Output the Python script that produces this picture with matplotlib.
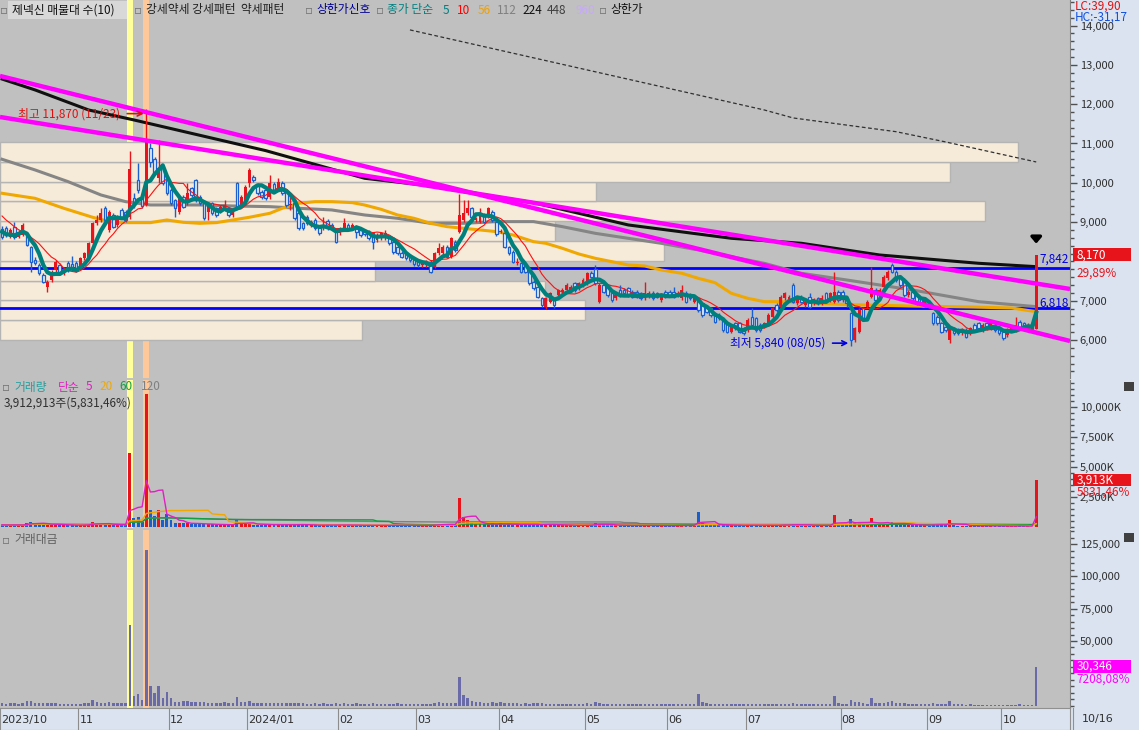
# 제넥신 daily chart: candles + MAs + volume profile, volume and trading value panels

import numpy as np
import pandas as pd
import matplotlib
matplotlib.use('Agg')
import matplotlib.pyplot as plt
import matplotlib.transforms as mtrans
from matplotlib.patches import Rectangle
from matplotlib.ticker import FixedLocator, MultipleLocator, FuncFormatter

plt.rcParams['font.family'] = ['Noto Sans CJK KR', 'DejaVu Sans']
plt.rcParams['axes.unicode_minus'] = False

# ---------------- data ----------------
month_start = [0, 19, 41, 60, 82, 101, 121, 142, 162, 181, 204, 225, 243]
month_label = ['2023/10', '11', '12', '2024/01', '02', '03', '04', '05', '06', '07', '08', '09', '10']

# closes before the first visible day (only used for MA5 / MA10)
pre_closes = [9700, 9600, 9550, 9500, 9420, 9000, 8850, 8700, 8600]

opens = [8816, 8840, 8630, 8880, 8630, 8670, 8710, 8375, 8030, 7910, 7655, 7357, 7527, 7782, 7909, 7697, 7950, 7934, 7968, 7866, 8078, 8120, 8460, 8970, 9054, 9350, 8800, 9180, 8926, 9309, 9266, 9122,
         9605, 10072, 9650, 9440, 10878, 10598, 10115, 10411, 10072, 9818, 9563, 9266, 9648, 9478, 9860, 10072, 9648, 9520, 9266, 9478, 9350, 9266, 9309, 9350, 9180, 9987, 9393, 9478, 9987, 10157, 9945, 9775, 9818,
         9648, 9970, 9818, 10004, 9775, 9436, 9478, 9224, 8969, 9140, 8926, 9054, 8842, 8842, 9037, 8926, 8800, 8715, 8842, 8926, 8842, 8884, 8800, 8783, 8757, 8715, 8545, 8587, 8587, 8587, 8503, 8375, 8222, 8188, 8163, 8053, 7994, 7909, 7909, 7994, 7866, 8206, 8206, 8375, 8121, 8503, 8757, 9054, 9224, 9350, 9054, 9012, 9181, 9140, 9266, 9012, 8757, 8715, 8358, 8248, 7970, 7951, 7909, 7740, 7485,
         7357, 7060, 6850, 6976, 7060, 7145, 7230, 7272, 7272, 7443, 7315, 7400, 7443, 7714, 7798, 6976, 7400, 7357, 7188, 7060, 7272, 7272, 7315, 7230, 7230, 7188, 7060, 7103, 7205, 7188, 7018, 7230, 7230, 7230, 7145, 7060, 7205, 7145, 6976, 7018, 6933, 6849, 6806, 6679, 6636, 6552, 6424, 6212, 6424, 6424, 6297, 6255, 6594, 6552, 6382, 6340, 6424, 6594, 6891, 6849, 7060, 7018, 7400, 6933,
         7103, 6891, 7103, 6933, 7060, 6933, 7188, 7018, 6976, 7230, 7230, 7060, 6679, 6000, 6212, 6806, 6849, 7103, 7272, 7230, 7357, 7570, 7909, 7740, 7612, 7527, 7145, 7230, 7145, 7060, 6891, 6976, 6679, 6594, 6424, 6340, 6000, 6297, 6255, 6170, 6255, 6170, 6382, 6424, 6255, 6424, 6297, 6382, 6297, 6212, 6127, 6255, 6255, 6467, 6424, 6255, 6382, 6290]
highs = [8900, 8900, 8850, 9010, 8800, 8980, 8760, 8400, 8100, 7960, 7700, 7520, 7780, 8030, 7960, 7850, 8000, 8140, 8000, 8120, 8250, 8500, 9010, 9180, 9360, 9400, 9300, 9220, 9180, 9350, 9300, 10820,
         9730, 10500, 9700, 11870, 11000, 10650, 11090, 10450, 10100, 9860, 9600, 9700, 9690, 9988, 9900, 10100, 9690, 9560, 9520, 9520, 9390, 9430, 9563, 9390, 9350, 10030, 9690, 9940, 10380, 10200, 9990, 9820, 9860,
         10200, 10010, 10115, 10050, 9820, 9650, 9520, 9260, 9010, 9180, 9050, 9100, 8880, 9120, 9080, 8970, 8840, 8880, 9100, 8970, 8970, 8930, 8840, 8820, 8800, 8750, 8710, 8750, 8800, 8630, 8545, 8420, 8260, 8230, 8200, 8090, 8030, 7990, 8030, 8030, 8250, 8460, 8420, 8420, 8630, 8545, 9716, 9563, 9563, 9390, 9140, 9350, 9224, 9390, 9310, 9050, 8820, 8760, 8400, 8290, 8080, 7990, 7950, 7780, 7530,
         7400, 7100, 7100, 7230, 7100, 7310, 7315, 7440, 7400, 7485, 7485, 7570, 7740, 7760, 7900, 7440, 7440, 7400, 7230, 7190, 7400, 7315, 7357, 7272, 7272, 7230, 7485, 7250, 7250, 7230, 7190, 7272, 7272, 7357, 7250, 7400, 7250, 7190, 7103, 7060, 6976, 6890, 6850, 6720, 6680, 6594, 6467, 6382, 6467, 6467, 6340, 6552, 6806, 6594, 6424, 6467, 6679, 6849, 6933, 7145, 7230, 7145, 7440, 7103,
         7145, 7018, 7188, 7080, 7103, 7145, 7230, 7230, 7740, 7272, 7272, 7103, 6720, 6340, 6806, 6849, 7018, 7866, 7315, 7315, 7655, 7782, 7951, 7782, 7655, 7570, 7272, 7272, 7188, 7103, 7103, 7018, 6720, 6636, 6467, 6382, 6340, 6340, 6297, 6310, 6297, 6340, 6424, 6467, 6424, 6467, 6467, 6424, 6340, 6255, 6297, 6382, 6594, 6509, 6467, 6424, 6424, 8170]
lows = [8560, 8620, 8600, 8560, 8600, 8650, 8380, 7740, 7900, 7650, 7440, 7230, 7480, 7740, 7650, 7650, 7740, 7760, 7740, 7820, 8040, 8100, 8420, 8930, 9010, 9000, 8760, 8840, 8880, 9100, 9010, 9080,
        9350, 9750, 9350, 9400, 10400, 10200, 9990, 9950, 9700, 9440, 9140, 9200, 9350, 9440, 9650, 9520, 9440, 9050, 9050, 9180, 9140, 9220, 9270, 9140, 9140, 9350, 9350, 9440, 9900, 10030, 9690, 9600, 9560,
        9600, 9730, 9780, 9700, 9390, 9310, 9050, 8800, 8800, 8930, 8880, 8800, 8670, 8800, 8800, 8800, 8460, 8670, 8800, 8800, 8800, 8590, 8630, 8650, 8550, 8310, 8500, 8550, 8550, 8420, 8200, 8160, 8080, 8040, 7990, 7890, 7870, 7860, 7870, 7700, 7820, 8160, 8160, 8080, 8080, 8250, 8720, 9010, 9180, 9100, 9010, 8970, 8970, 9100, 9010, 8650, 8710, 8330, 8160, 7950, 7900, 7700, 7700, 7400, 7270,
        7060, 6850, 6800, 6930, 6810, 7100, 7190, 7230, 7230, 7230, 7270, 7357, 7400, 7570, 7400, 6930, 7190, 7100, 6976, 7018, 7100, 7145, 7100, 7060, 7060, 7018, 7018, 7060, 7018, 7060, 6976, 7060, 7100, 7060, 7100, 7018, 6930, 7018, 6930, 6720, 6594, 6680, 6594, 6424, 6509, 6212, 6170, 6170, 6255, 6170, 6127, 6212, 6340, 6212, 6212, 6297, 6382, 6552, 6720, 6806, 7018, 6976, 6933, 6890,
        6933, 6850, 6806, 6891, 6891, 6891, 6933, 6976, 6933, 6976, 6976, 6850, 5840, 5950, 6170, 6509, 6806, 7060, 6976, 7188, 7315, 7527, 7697, 7485, 7357, 7100, 7100, 7018, 6891, 6891, 6849, 6806, 6382, 6382, 6170, 6212, 5920, 6127, 6127, 6127, 6043, 6127, 6212, 6255, 6212, 6255, 6255, 6212, 6127, 6000, 6085, 6212, 6212, 6297, 6255, 6212, 6212, 6290]
closes = [8630, 8670, 8800, 8630, 8760, 8930, 8420, 7990, 7950, 7700, 7485, 7485, 7740, 7994, 7697, 7800, 7782, 7800, 7782, 8078, 8206, 8460, 8970, 9054, 9224, 9054, 9266, 8884, 9140, 9140, 9054, 10343,
          9436, 9818, 9400, 11090, 10538, 10242, 10369, 9987, 9733, 9478, 9350, 9665, 9393, 9733, 9690, 9563, 9478, 9096, 9478, 9224, 9180, 9393, 9436, 9180, 9309, 9393, 9648, 9902, 10327, 10072, 9733, 9648, 9605,
          9987, 9775, 10030, 9750, 9436, 9460, 9096, 8842, 8842, 8969, 9012, 8842, 8715, 8926, 8842, 8842, 8503, 8842, 8969, 8842, 8926, 8757, 8672, 8698, 8587, 8503, 8672, 8715, 8715, 8460, 8248, 8206, 8121, 8078, 8036, 7934, 7909, 7951, 7994, 7740, 8206, 8333, 8375, 8121, 8587, 8290, 9181, 9224, 9350, 9140, 9096, 9206, 9012, 9350, 9054, 8698, 8783, 8375, 8206, 7994, 7994, 7740, 7740, 7443, 7315,
          7103, 6891, 7060, 7188, 6891, 7272, 7272, 7400, 7357, 7272, 7443, 7527, 7697, 7612, 7443, 7400, 7230, 7145, 7018, 7145, 7145, 7188, 7145, 7103, 7103, 7060, 7188, 7205, 7060, 7103, 7145, 7103, 7145, 7103, 7205, 7272, 6976, 7060, 7060, 6764, 6636, 6721, 6636, 6467, 6552, 6255, 6212, 6340, 6297, 6212, 6170, 6509, 6382, 6255, 6255, 6424, 6636, 6806, 6764, 7103, 7188, 7103, 6976, 7060,
          6976, 6976, 6849, 7035, 6933, 7060, 6976, 7188, 7230, 7018, 7035, 6933, 6000, 6297, 6764, 6552, 6976, 7315, 7018, 7272, 7612, 7740, 7740, 7527, 7400, 7145, 7230, 7060, 6933, 6933, 7060, 6849, 6424, 6424, 6212, 6255, 6297, 6187, 6170, 6272, 6085, 6297, 6255, 6297, 6382, 6297, 6424, 6255, 6170, 6043, 6255, 6340, 6382, 6340, 6297, 6382, 6290, 8170]

# volume, thousand shares
volumes = [210, 180, 190, 230, 160, 200, 380, 470, 300, 260, 280, 250, 230, 260, 200, 170, 180, 200, 170, 190, 210, 230, 470, 300, 260, 240, 280, 220, 190, 180, 210,
           6170,
           800, 900, 470, 11110, 1440, 940, 1440, 610, 1080, 610, 330, 330, 400, 330,
           280, 300, 260, 300, 250, 240, 200, 220, 260, 200, 190, 690, 280, 300, 350, 230, 220, 200, 210,
           240, 200, 210, 190, 220, 200, 240, 260, 200, 180, 170, 190, 160, 200, 180, 170, 230, 180, 210, 170, 160, 190, 170, 160, 170, 200, 160, 150, 170, 160, 190, 200, 160, 150, 140, 160, 150, 140, 150, 170, 280, 300, 220, 210, 230, 260,
           2440,
           900, 600, 400, 300, 280, 260, 250, 330, 260, 350, 200, 260, 220, 280, 200, 230, 200, 250, 240,
           260, 230, 220, 210, 200, 180, 170, 160, 150, 160, 170, 220, 180, 350, 300, 200, 180, 170, 160, 180, 150, 140, 150, 140, 130, 200, 160, 140, 130, 150, 140, 130, 120, 130, 200, 160, 140, 130,
           1270,
           400, 260, 200, 240, 180, 220, 200, 170, 180, 160, 150, 200, 210, 190, 150, 140, 180, 200, 170, 220, 180, 160, 300, 220, 180, 160, 170, 150, 160, 150, 170, 180,
           1020,
           300, 220, 200, 700, 450, 400, 250, 220,
           800,
           300, 250, 280, 350, 420, 300, 250, 280, 200, 180, 170, 160, 180, 150, 300, 220, 200, 170,
           600,
           200, 150, 140, 130, 150, 120, 110, 120, 100, 110, 100, 90, 120, 110, 100, 90, 150, 100, 90, 66,
           3913]

# long moving averages (day index, price)
ma56_i = [0, 8, 15, 22, 26, 30, 36, 40, 44, 48, 52, 56, 60, 65, 68, 72, 76, 80, 85, 88, 92, 96, 100, 104, 108, 112, 116, 120, 124, 129,
          132, 136, 140, 144, 148, 152, 156, 160, 165, 169, 173, 177, 181, 185, 189, 195, 205, 215, 221, 235, 245, 251]
ma56_v = [9733, 9605, 9351, 9122, 9012, 8986, 8986, 9054, 8994, 8969, 8986, 9054, 9122, 9224, 9351, 9478, 9520, 9520, 9495, 9435, 9325, 9181, 9096, 8969, 8884, 8842, 8800, 8757, 8672, 8502,
          8460, 8333, 8188, 8078, 7993, 7909, 7883, 7782, 7697, 7569, 7460, 7188, 7060, 6976, 6976, 6950, 6900, 6880, 6865, 6840, 6815, 6720]
ma112_i = [0, 8, 16, 24, 30, 36, 48, 56, 65, 72, 80, 88, 96, 104, 112, 120, 129, 136, 144, 152, 160, 169, 177, 185, 194, 205, 221, 237, 251]
ma112_v = [10598, 10327, 10030, 9690, 9520, 9436, 9436, 9410, 9393, 9351, 9309, 9181, 9096, 8969, 8969, 9012, 9012, 8884, 8714, 8587, 8460, 8290, 8121, 7951, 7697, 7527, 7272, 6975, 6848]
ma224_i = [0, 8, 21, 32, 64, 88, 104, 112, 129, 152, 177, 194, 213, 237, 251]
ma224_v = [12640, 12363, 11853, 11599, 10818, 10115, 9919, 9775, 9494, 8927, 8588, 8461, 8163, 7952, 7866]
ma448_i = [99, 185, 192, 217, 229, 251]
ma448_v = [13890, 11853, 11650, 11300, 11040, 10530]

# volume profile (10 price bands of 504 from 6,000), relative volume bottom -> top
profile_low = 6000
profile_step = 504
profile_vol = [338, 547, 509, 350, 621, 519, 921, 557, 888, 951]

# trend lines and horizontal levels
trend_a_i = [-0.5, 259.2]
trend_a_v = [12718, 5975]
trend_b_i = [-0.5, 259.2]
trend_b_v = [11674, 7298]
levels = [7842, 6818]

high_day, low_day = 35, 206

# ---------------- derived ----------------
o = np.array(opens, float)
h = np.array(highs, float)
l = np.array(lows, float)
c = np.array(closes, float)
h = np.maximum(h, np.maximum(o, c))
l = np.minimum(l, np.minimum(o, c))
v = np.array(volumes, float)
n = len(c)
idx = np.arange(n)
up = c >= o

allc = pd.Series(pre_closes + closes, dtype=float)
ma5 = allc.rolling(5).mean().values[len(pre_closes):]
ma10 = allc.rolling(10).mean().values[len(pre_closes):]
vs = pd.Series(v)
vma = {k: vs.rolling(k, min_periods=1).mean().values for k in (5, 20, 60, 120)}
value = v * (h + l + 2 * c) / 4 / 1000  # million won

RED = '#e8141c'
BLUE = '#1a5fd0'
BG = '#c0c0c0'
AXBG = '#dae3ef'
XL = (-0.5, 259.2)

W, H = 1139, 730
fig = plt.figure(figsize=(W / 100, H / 100), dpi=100, facecolor=BG)


def fx(p):
    return p / W


def fy(p):
    return 1 - p / H


def add_ax(x0, y0, x1, y1):
    return fig.add_axes([fx(x0), fy(y1), fx(x1) - fx(x0), fy(y0) - fy(y1)])


fig.patches.append(Rectangle((fx(1070), 0), 1 - fx(1070), 1, transform=fig.transFigure,
                             facecolor=AXBG, edgecolor='none', zorder=-5))
fig.patches.append(Rectangle((0, 0), 1, fy(708), transform=fig.transFigure,
                             facecolor=AXBG, edgecolor='none', zorder=-5))

ax = add_ax(0, 0, 1070, 378)
axv = add_ax(0, 380, 1070, 528)
axm = add_ax(0, 530, 1070, 708)
axd = add_ax(0, 708, 1070, 730)


def style(a):
    a.set_facecolor(BG)
    a.set_xlim(*XL)
    for s in ('top', 'left', 'bottom'):
        a.spines[s].set_visible(False)
    a.spines['right'].set_color('#808080')
    a.tick_params(axis='x', bottom=False, labelbottom=False)
    a.yaxis.tick_right()
    a.tick_params(axis='y', which='major', length=5, width=1, color='#505050',
                  labelsize=8, labelcolor='#303030', pad=2)
    a.tick_params(axis='y', which='minor', length=3, width=1, color='#505050')
    # highlighted days (11/17 and 11/23)
    a.axvspan(30.3, 31.7, color='#ffff9c', zorder=0.2, lw=0)
    a.axvspan(34.3, 35.7, color='#ffc89a', zorder=0.2, lw=0)


for a in (ax, axv, axm):
    style(a)

# ---------------- price panel ----------------
ax.set_ylim(5033, 14651)
blend = mtrans.blended_transform_factory(ax.transAxes, ax.transData)
for k, pv in enumerate(profile_vol):
    ax.add_patch(Rectangle((0, profile_low + k * profile_step), pv / 1000, profile_step,
                           transform=blend, facecolor='#f6ead8', edgecolor='#b4b4b4', lw=1, zorder=1))

for lv in levels:
    ax.axhline(lv, color='#0000ff', lw=2, zorder=2)

ax.plot(ma448_i, ma448_v, color='#303030', lw=0.9, ls=(0, (3, 2)), zorder=2)
ax.plot(ma112_i, ma112_v, color='#858585', lw=2.2, zorder=2.5)
ax.plot(ma56_i, ma56_v, color='#f0a800', lw=2.2, zorder=2.5)
ax.plot(ma224_i, ma224_v, color='#101010', lw=2.2, zorder=2.6)

ax.vlines(idx[up], l[up], h[up], color=RED, lw=1, zorder=3)
ax.vlines(idx[~up], l[~up], h[~up], color=BLUE, lw=1, zorder=3)
ax.bar(idx[up], np.maximum(c[up] - o[up], 20), bottom=o[up], width=0.72, color=RED, zorder=3.1)
ax.bar(idx[~up], np.maximum(o[~up] - c[~up], 20), bottom=c[~up], width=0.62,
       facecolor='#e8eefa', edgecolor=BLUE, lw=0.9, zorder=3.1)

ax.plot(idx, ma10, color='#ff1010', lw=0.8, zorder=4)
ax.plot(idx, ma5, color='#00807c', lw=3, zorder=4.1)

ax.plot(trend_a_i, trend_a_v, color='#ff00ff', lw=3.2, zorder=5, solid_capstyle='butt')
ax.plot(trend_b_i, trend_b_v, color='#ff00ff', lw=3.2, zorder=5, solid_capstyle='butt')

ax.yaxis.set_major_locator(FixedLocator([6000, 7000, 9000, 10000, 11000, 12000, 13000, 14000]))
ax.yaxis.set_minor_locator(MultipleLocator(200))
ax.yaxis.set_major_formatter(FuncFormatter(lambda y, p: f'{y:,.0f}'))

ax.annotate('최고 11,870 (11/23)', xy=(high_day - 0.6, 11760), xytext=(3.9, 11760),
            color='#e01010', fontsize=8.5, va='center', ha='left', zorder=6,
            arrowprops=dict(arrowstyle='->', color='#e01010', lw=1.2, shrinkA=3, shrinkB=0))
ax.annotate('최저 5,840 (08/05)', xy=(low_day - 0.6, 5920), xytext=(176.7, 5920),
            color='#0000e0', fontsize=8.5, va='center', ha='left', zorder=6,
            arrowprops=dict(arrowstyle='->', color='#0000e0', lw=1.2, shrinkA=3, shrinkB=0))
ax.annotate('', xy=(n - 1, 8380), xytext=(n - 1, 8700),
            arrowprops=dict(arrowstyle='-|>,head_width=0.3,head_length=0.35', color='black', lw=2.5))
ax.text(258.8, levels[0] + 40, '7,842', color='#0000e0', fontsize=8.5, ha='right', va='bottom', zorder=6)
ax.text(258.8, levels[1] + 120, '6,818', color='#0000e0', fontsize=8.5, ha='right', va='center', zorder=6)

ax.add_patch(Rectangle((1.0028, c[-1] - 165), 0.054, 330, transform=blend, facecolor=RED,
                       edgecolor='none', clip_on=False, zorder=6))
ax.text(1.006, c[-1], f'{c[-1]:,.0f}', transform=blend, color='white', fontsize=8.5, va='center', ha='left', zorder=7)
ax.text(1.006, c[-1] - 480, '29,89%', transform=blend, color=RED, fontsize=8.5, va='center', ha='left', zorder=7)

# ---------------- volume panel ----------------
axv.set_ylim(-58, 12275)
axv.bar(idx[up], v[up], width=0.72, color=RED, zorder=3)
axv.bar(idx[~up], v[~up], width=0.72, color=BLUE, zorder=3)
for k, col in ((120, '#808080'), (60, '#10a040'), (20, '#f0a800'), (5, '#e020c0')):
    axv.plot(idx, vma[k], color=col, lw=1, zorder=4)
axv.yaxis.set_major_locator(FixedLocator([2500, 5000, 7500, 10000]))
axv.yaxis.set_minor_locator(MultipleLocator(500))
axv.yaxis.set_major_formatter(FuncFormatter(lambda y, p: f'{y:,.0f}K'))
blv = mtrans.blended_transform_factory(axv.transAxes, axv.transData)
axv.add_patch(Rectangle((1.0028, v[-1] - 500), 0.054, 1000, transform=blv, facecolor=RED,
                        edgecolor='none', clip_on=False, zorder=6))
axv.text(1.006, v[-1], f'{v[-1]:,.0f}K', transform=blv, color='white', fontsize=8.5, va='center', zorder=7)
axv.text(1.006, v[-1] - 1000, '5831,46%', transform=blv, color=RED, fontsize=8.5, va='center', zorder=7)

# ---------------- trading value panel ----------------
axm.set_ylim(-1860, 135900)
axm.bar(idx, value, width=0.6, color='#6a6aa8', zorder=3)
axm.yaxis.set_major_locator(FixedLocator([50000, 75000, 100000, 125000]))
axm.yaxis.set_minor_locator(MultipleLocator(5000))
axm.yaxis.set_major_formatter(FuncFormatter(lambda y, p: f'{y:,.0f}'))
blm = mtrans.blended_transform_factory(axm.transAxes, axm.transData)
axm.add_patch(Rectangle((1.0028, 30346 - 5000), 0.054, 10000, transform=blm, facecolor='#ff00ff',
                        edgecolor='none', clip_on=False, zorder=6))
axm.text(1.006, 30346, '30,346', transform=blm, color='white', fontsize=8.5, va='center', zorder=7)
axm.text(1.006, 20600, '7208,08%', transform=blm, color='#ff00ff', fontsize=8.5, va='center', zorder=7)

# ---------------- date strip ----------------
axd.set_facecolor(AXBG)
axd.set_xlim(*XL)
axd.set_ylim(0, 1)
axd.set_xticks([])
axd.set_yticks([])
for s in axd.spines.values():
    s.set_color('#909090')
for ms, lab in zip(month_start, month_label):
    if ms > 0:
        axd.axvline(ms - 0.5, color='#8c8c8c', lw=0.8)
    axd.text(ms - 0.2, 0.45, lab, fontsize=8, color='#303030', va='center', ha='left',
             family=['Liberation Sans Narrow', 'DejaVu Sans'])
fig.text(fx(1082), fy(719), '10/16', fontsize=8, color='#303030', va='center', ha='left',
         family=['Liberation Sans Narrow', 'DejaVu Sans'])
fig.add_artist(plt.Line2D([fx(1073), fx(1073)], [0, fy(708)], color='#909090', lw=0.8))

# ---------------- legends / headers ----------------
fig.patches.append(Rectangle((fx(8), fy(19)), fx(127) - fx(8), fy(1) - fy(19), transform=fig.transFigure,
                             facecolor='#d8d8d8', edgecolor='none', zorder=1))


def ftext(x, y, s, color, size=8.5):
    fam = ['DejaVu Sans'] if s == '▫' else ['Noto Sans CJK KR', 'DejaVu Sans']
    fig.text(fx(x), fy(y), s, color=color, fontsize=size, va='center', ha='left', zorder=3, family=fam)


top_items = [(0, '▫', '#707070'), (12, '제넥신 매물대 수(10)', '#101010'), (134, '▫', '#707070'),
             (146, '강세약세 강세패턴  약세패턴', '#202020'), (305, '▫', '#707070'), (316, '상한가신호', '#000090'),
             (376, '▫', '#707070'), (387, '종가 단순', '#008080'), (443, '5', '#008080'), (457, '10', '#ff0000'),
             (478, '56', '#f0a000'), (497, '112', '#808080'), (522, '224', '#101010'), (547, '448', '#404040'),
             (575, '960', '#c8a8ff'), (599, '▫', '#707070'), (610, '상한가', '#101010')]
for x, s, col in top_items:
    ftext(x, 10, s, col)

ftext(1075, 6, 'LC:39,90', '#e01010')
ftext(1075, 17, 'HC:-31,17', '#1050e0')

vol_items = [(2, '▫', '#707070'), (14, '거래량', '#20a0a0'), (58, '단순', '#e020c0'), (86, '5', '#e020c0'),
             (99, '20', '#f0a800'), (119, '60', '#10a040'), (141, '120', '#808080')]
for x, s, col in vol_items:
    ftext(x, 387, s, col)
ftext(4, 403, '3,912,913주(5,831,46%)', '#303030')
ftext(2, 540, '▫', '#707070')
ftext(14, 540, '거래대금', '#606060')

for yy in (382, 533):
    fig.patches.append(Rectangle((fx(1124), fy(yy + 9)), fx(10), fy(0) - fy(9), transform=fig.transFigure,
                                 facecolor='#404040', edgecolor='none', zorder=3))

fig.savefig('out.png', dpi=100, facecolor=BG)
